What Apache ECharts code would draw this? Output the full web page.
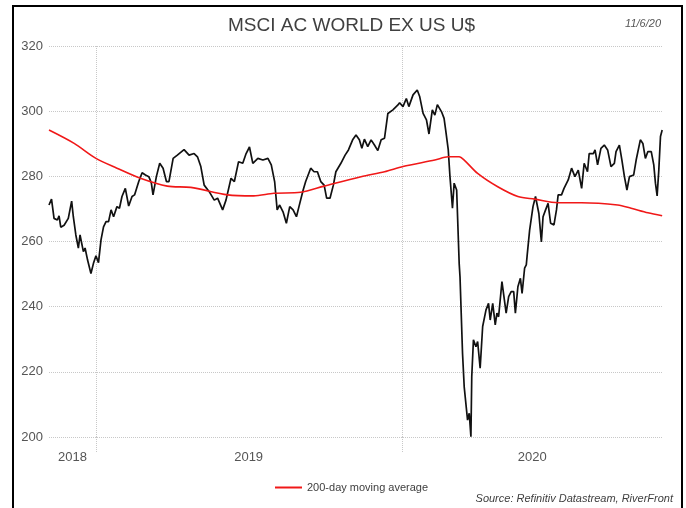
<!DOCTYPE html>
<html>
<head>
<meta charset="utf-8">
<script src="https://cdn.jsdelivr.net/npm/echarts@6/dist/echarts.min.js"></script>
<style>
html, body { margin: 0; padding: 0; background: #fff; }
#main { width: 686px; height: 508px; }
</style>
</head>
<body>
<div id="main"></div>
<script>
// MSCI AC World ex US (U$) index level
var priceDates = [
    '2018-11-06', '2018-11-09', '2018-11-12', '2018-11-16', '2018-11-18', '2018-11-20', '2018-11-24', '2018-11-25',
    '2018-11-29', '2018-12-03', '2018-12-05', '2018-12-08', '2018-12-11', '2018-12-13', '2018-12-17', '2018-12-19',
    '2018-12-22', '2018-12-26', '2018-12-29', '2019-01-01', '2019-01-04', '2019-01-07', '2019-01-10', '2019-01-13',
    '2019-01-16', '2019-01-19', '2019-01-22', '2019-01-26', '2019-01-29', '2019-02-01', '2019-02-05', '2019-02-09',
    '2019-02-13', '2019-02-16', '2019-02-21', '2019-02-25', '2019-03-01', '2019-03-05', '2019-03-08', '2019-03-10',
    '2019-03-14', '2019-03-18', '2019-03-22', '2019-03-26', '2019-03-29', '2019-04-03', '2019-04-08', '2019-04-16',
    '2019-04-22', '2019-04-28', '2019-05-02', '2019-05-06', '2019-05-10', '2019-05-16', '2019-05-22', '2019-05-26',
    '2019-06-01', '2019-06-05', '2019-06-11', '2019-06-15', '2019-06-20', '2019-06-25', '2019-06-29', '2019-07-03',
    '2019-07-07', '2019-07-13', '2019-07-19', '2019-07-25', '2019-07-29', '2019-08-02', '2019-08-05', '2019-08-08',
    '2019-08-12', '2019-08-16', '2019-08-20', '2019-08-24', '2019-08-28', '2019-08-31', '2019-09-05', '2019-09-08',
    '2019-09-14', '2019-09-18', '2019-09-22', '2019-09-26', '2019-09-30', '2019-10-03', '2019-10-07', '2019-10-11',
    '2019-10-14', '2019-10-20', '2019-10-25', '2019-10-29', '2019-11-03', '2019-11-07', '2019-11-11', '2019-11-14',
    '2019-11-17', '2019-11-21', '2019-11-25', '2019-11-29', '2019-12-03', '2019-12-07', '2019-12-11', '2019-12-15',
    '2019-12-21', '2019-12-27', '2019-12-29', '2020-01-02', '2020-01-06', '2020-01-09', '2020-01-14', '2020-01-19',
    '2020-01-22', '2020-01-26', '2020-01-30', '2020-02-02', '2020-02-06', '2020-02-09', '2020-02-12', '2020-02-17',
    '2020-02-20', '2020-02-22', '2020-02-25', '2020-02-27', '2020-03-01', '2020-03-03', '2020-03-06', '2020-03-09',
    '2020-03-10', '2020-03-13', '2020-03-15', '2020-03-19', '2020-03-21', '2020-03-23', '2020-03-24', '2020-03-26',
    '2020-03-29', '2020-03-31', '2020-04-03', '2020-04-06', '2020-04-10', '2020-04-13', '2020-04-15', '2020-04-18',
    '2020-04-21', '2020-04-23', '2020-04-25', '2020-04-29', '2020-05-04', '2020-05-07', '2020-05-10', '2020-05-13',
    '2020-05-15', '2020-05-18', '2020-05-21', '2020-05-23', '2020-05-26', '2020-05-28', '2020-05-29', '2020-06-01',
    '2020-06-05', '2020-06-08', '2020-06-12', '2020-06-15', '2020-06-17', '2020-06-20', '2020-06-23', '2020-06-26',
    '2020-06-30', '2020-07-03', '2020-07-05', '2020-07-09', '2020-07-12', '2020-07-17', '2020-07-21', '2020-07-25',
    '2020-07-29', '2020-08-02', '2020-08-05', '2020-08-09', '2020-08-11', '2020-08-16', '2020-08-18', '2020-08-21',
    '2020-08-25', '2020-08-29', '2020-09-02', '2020-09-06', '2020-09-10', '2020-09-12', '2020-09-16', '2020-09-19',
    '2020-09-22', '2020-09-25', '2020-09-28', '2020-10-03', '2020-10-06', '2020-10-11', '2020-10-14', '2020-10-17',
    '2020-10-20', '2020-10-24', '2020-10-27', '2020-10-29', '2020-10-31', '2020-11-02', '2020-11-04', '2020-11-06'
];
var priceValues = [
    271.2, 273.0, 267.1, 266.6, 267.9, 264.4, 265.0, 264.5,
    267.1, 272.4, 267.6, 262.0, 258.0, 262.0, 256.9, 258.0,
    254.3, 250.2, 253.3, 255.6, 253.5, 260.5, 264.5, 266.1,
    266.1, 269.7, 267.6, 270.7, 270.2, 273.8, 276.3, 270.9,
    273.8, 274.3, 278.4, 281.1, 280.4, 279.9, 278.0, 274.3,
    279.9, 284.0, 282.5, 278.4, 278.4, 285.5, 286.5, 288.2,
    286.5, 287.0, 286.0, 283.0, 277.3, 275.3, 272.7, 273.3,
    269.7, 272.7, 279.4, 278.4, 284.5, 284.0, 287.0, 289.0,
    284.0, 285.5, 285.0, 285.5, 283.5, 278.4, 269.7, 271.2,
    269.1, 265.6, 270.7, 269.7, 267.6, 270.7, 275.8, 278.4,
    282.5, 281.4, 281.4, 278.4, 277.3, 273.3, 273.3, 277.3,
    281.4, 284.0, 286.5, 288.1, 291.2, 292.7, 291.2, 288.6,
    291.4, 289.1, 291.2, 289.6, 287.9, 291.2, 291.7, 299.3,
    300.4, 301.9, 302.6, 301.4, 303.9, 301.4, 305.0, 306.5,
    304.4, 299.3, 297.3, 293.0, 300.4, 298.8, 302.0, 299.8,
    297.8, 294.0, 288.1, 280.0, 270.2, 277.9, 275.8, 253.3,
    249.2, 225.7, 215.4, 205.2, 207.3, 200.1, 218.5, 229.8,
    227.7, 229.3, 221.1, 233.9, 239.0, 241.0, 235.9, 241.0,
    234.4, 238.0, 236.9, 247.7, 238.0, 243.1, 244.6, 244.6,
    238.0, 246.1, 248.7, 244.1, 251.8, 252.8, 255.6, 263.5,
    270.7, 273.8, 268.6, 259.9, 267.6, 269.7, 271.7, 265.6,
    265.1, 269.7, 274.3, 274.3, 276.3, 278.9, 282.5, 279.9,
    281.9, 276.3, 284.0, 281.4, 287.0, 287.0, 288.1, 283.5,
    288.6, 289.6, 288.1, 283.0, 284.0, 287.6, 289.6, 285.0,
    279.9, 275.8, 279.9, 280.4, 285.0, 291.2, 290.1, 285.5,
    287.6, 287.6, 283.5, 277.9, 274.0, 281.9, 292.2, 294.2
];

// 200-day moving average
var maDates = [
    '2018-11-06', '2018-12-06', '2019-01-01', '2019-01-26', '2019-02-23', '2019-03-27', '2019-04-24', '2019-06-07',
    '2019-07-08', '2019-08-01', '2019-09-02', '2019-09-30', '2019-11-13', '2019-12-11', '2020-01-02', '2020-02-09',
    '2020-02-25', '2020-03-09', '2020-03-15', '2020-03-31', '2020-04-24', '2020-05-18', '2020-06-07', '2020-07-05',
    '2020-08-02', '2020-09-14', '2020-09-30', '2020-10-20', '2020-11-06'
];
var maValues = [
    294.2, 290.1, 285.5, 282.5, 279.4, 277.0, 276.6, 274.3,
    274.0, 274.8, 275.1, 277.0, 279.9, 281.4, 283.0, 285.0,
    286.0, 286.0, 285.0, 280.9, 276.8, 273.8, 273.0, 271.9,
    271.9, 271.2, 270.2, 268.8, 267.9
];

// year labels sit in the middle of each year's span, grid lines on Jan 1
var yearLabels = ['2018', '2019', '2020'];
var yearLabelDates = ['2018-12-04', '2019-07-02', '2020-06-04'];
var yearStartDates = ['2019-01-01', '2020-01-01'];

function toTime(s) {
    var p = s.split('-');
    return new Date(+p[0], p[1] - 1, +p[2]).getTime();
}

var priceData = [];
for (var i = 0; i < priceDates.length; i++) {
    priceData.push([toTime(priceDates[i]), priceValues[i]]);
}
var maData = [];
for (var j = 0; j < maDates.length; j++) {
    maData.push([toTime(maDates[j]), maValues[j]]);
}
var labelTimes = yearLabelDates.map(toTime);
var yearStartTimes = yearStartDates.map(toTime);

var font = '"Liberation Sans", Arial, sans-serif';
var gridLine = {color: '#c8c8c8', type: 'dotted', width: 1};

var myChart = echarts.init(document.getElementById('main'));

var option = {
    animation: false,
    backgroundColor: '#fff',
    title: {
        text: 'MSCI AC WORLD EX US U$',
        left: 223,
        top: 11,
        textStyle: {fontFamily: font, fontSize: 19, fontWeight: 'normal', color: '#404040'}
    },
    legend: {
        data: ['200-day moving average'],
        left: 270,
        top: 477,
        icon: 'rect',
        itemWidth: 27,
        itemHeight: 2,
        textStyle: {fontFamily: font, fontSize: 11, color: '#404040'}
    },
    grid: {left: 49, right: 23, top: 46, bottom: 71},
    // x runs on plain timestamps so the Jan 1 lines and mid-year labels can be placed exactly
    xAxis: {
        type: 'value',
        min: toTime('2018-11-06'),
        max: toTime('2020-11-07'),
        axisLine: {show: false},
        axisTick: {show: true, customValues: yearStartTimes, length: 16, lineStyle: gridLine},
        splitLine: {show: true, lineStyle: gridLine},
        axisLabel: {
            customValues: labelTimes,
            margin: 14,
            fontFamily: font,
            fontSize: 13,
            color: '#555',
            formatter: function (v) {
                var k = labelTimes.indexOf(v);
                return k >= 0 ? yearLabels[k] : '';
            }
        }
    },
    yAxis: {
        type: 'value',
        min: 200,
        max: 320,
        interval: 20,
        axisLine: {show: false},
        axisTick: {show: false},
        splitLine: {show: true, lineStyle: gridLine},
        axisLabel: {margin: 6, fontFamily: font, fontSize: 13, color: '#555'}
    },
    series: [{
        name: 'MSCI AC World ex US',
        type: 'line',
        data: priceData,
        symbol: 'none',
        lineStyle: {color: '#111', width: 1.7},
        itemStyle: {color: '#111'},
        z: 2
    }, {
        name: '200-day moving average',
        type: 'line',
        data: maData,
        smooth: 0.3,
        symbol: 'none',
        lineStyle: {color: '#f01818', width: 1.6},
        itemStyle: {color: '#f01818'},
        z: 3
    }],
    graphic: [{
        type: 'text',
        x: 661,
        y: 24,
        style: {text: '11/6/20', font: 'italic 11px ' + font, fill: '#555', align: 'right', verticalAlign: 'middle'}
    }, {
        type: 'text',
        x: 673,
        y: 499,
        style: {text: 'Source: Refinitiv Datastream, RiverFront', font: 'italic 11px ' + font, fill: '#404040', align: 'right', verticalAlign: 'middle'}
    }, {
        type: 'rect',
        silent: true,
        shape: {x: 13, y: 6, width: 669, height: 520},
        style: {fill: 'none', stroke: '#000', lineWidth: 2}
    }]
};

myChart.setOption(option);
</script>
</body>
</html>
